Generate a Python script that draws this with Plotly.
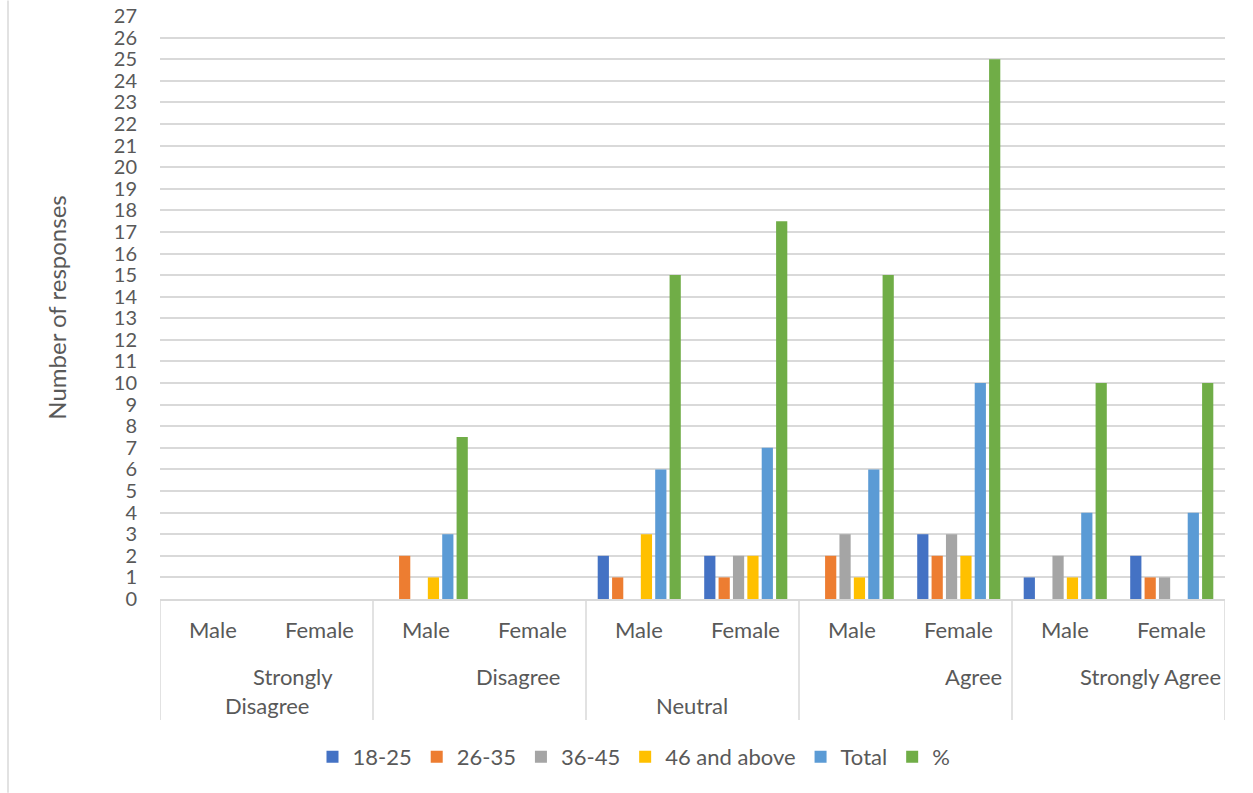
import plotly.graph_objects as go

levels = ["Strongly Disagree", "Disagree", "Neutral", "Agree", "Strongly Agree"]
genders = ["Male", "Female"]
series_names = ["18-25", "26-35", "36-45", "46 and above", "Total", "%"]
colors = ["#4472C4", "#ED7D31", "#A5A5A5", "#FFC000", "#5B9BD5", "#70AD47"]

# values per category in order: SD-M, SD-F, D-M, D-F, N-M, N-F, A-M, A-F, SA-M, SA-F
age_18_25 = [0, 0, 0, 0, 2, 2, 0, 3, 1, 2]
age_26_35 = [0, 0, 2, 0, 1, 1, 2, 2, 0, 1]
age_36_45 = [0, 0, 0, 0, 0, 2, 3, 3, 2, 1]
age_46_up = [0, 0, 1, 0, 3, 2, 1, 2, 1, 0]
total = [0, 0, 3, 0, 6, 7, 6, 10, 4, 4]
percent = [0, 0, 7.5, 0, 15, 17.5, 15, 25, 10, 10]
series_values = [age_18_25, age_26_35, age_36_45, age_46_up, total, percent]
y_ticks = list(range(0, 28))

cats = [f"{l}|{g}" for l in levels for g in genders]

TXT = "#595959"
GRID = "#d9d9d9"
FONT = "Lato"

# plot area in pixels
L, R, T, B = 160, 1225, 15.5, 599.0
W, H = R - L, B - T


def px_x(px):
    return (px - L) / W


def px_y(py):
    return (B - py) / H


fig = go.Figure()
for name, vals, col in zip(series_names, series_values, colors):
    fig.add_trace(go.Bar(x=cats, y=vals, name=name, marker=dict(color=col, line=dict(width=0))))

annotations = []
for c in cats:
    g = c.split("|")[1]
    annotations.append(dict(x=c, xref="x", y=px_y(630), yref="paper", text=g, showarrow=False,
                            font=dict(size=22, color=TXT, family=FONT), xanchor="center", yanchor="middle"))

level_labels = [
    ("Strongly", 293, 677),
    ("Disagree", 267, 706),
    ("Disagree", 518, 677),
    ("Neutral", 692, 706),
    ("Agree", 973, 677),
    ("Strongly Agree", 1150, 677),
]
for t, x, y in level_labels:
    annotations.append(dict(x=px_x(x), xref="paper", y=px_y(y), yref="paper", text=t, showarrow=False,
                            font=dict(size=22, color=TXT, family=FONT), xanchor="center", yanchor="middle"))

shapes = []
for b in [-0.5, 1.5, 3.5, 5.5, 7.5, 9.5]:
    shapes.append(dict(type="line", xref="x", yref="paper", x0=b, x1=b, y0=0, y1=px_y(720),
                       line=dict(color=GRID, width=1.5)))
shapes.append(dict(type="line", xref="paper", yref="paper", x0=px_x(8), x1=px_x(8), y0=px_y(0), y1=px_y(793),
                   line=dict(color=GRID, width=1.5)))

fig.update_layout(
    width=1253, height=793,
    margin=dict(l=L, r=1253 - R, t=T, b=793 - B, autoexpand=False),
    paper_bgcolor="white", plot_bgcolor="white",
    barmode="group", bargap=0.19, bargroupgap=0.22,
    font=dict(family=FONT, color=TXT, size=20),
    xaxis=dict(categoryorder="array", categoryarray=cats, showticklabels=False, showgrid=False,
               showline=True, linecolor=GRID, linewidth=1.5, ticks="", zeroline=False, range=[-0.5, 9.5],
               automargin=False),
    yaxis=dict(range=[0, 27], tickvals=y_ticks, ticktext=[str(v) for v in y_ticks], showgrid=True,
               gridcolor=GRID, gridwidth=1.5, zeroline=False, ticks="outside", ticklen=18,
               tickcolor="rgba(0,0,0,0)", tickfont=dict(size=20, color=TXT, family=FONT), automargin=False,
               title=dict(text="Number of responses", font=dict(size=24, color=TXT, family=FONT), standoff=40)),
    legend=dict(orientation="h", x=px_x(634), xanchor="center", y=px_y(757), yanchor="middle",
                font=dict(size=22, color=TXT, family=FONT), itemwidth=30, traceorder="normal"),
    annotations=annotations,
    shapes=shapes,
    showlegend=True,
)

fig.write_html("out.html")
